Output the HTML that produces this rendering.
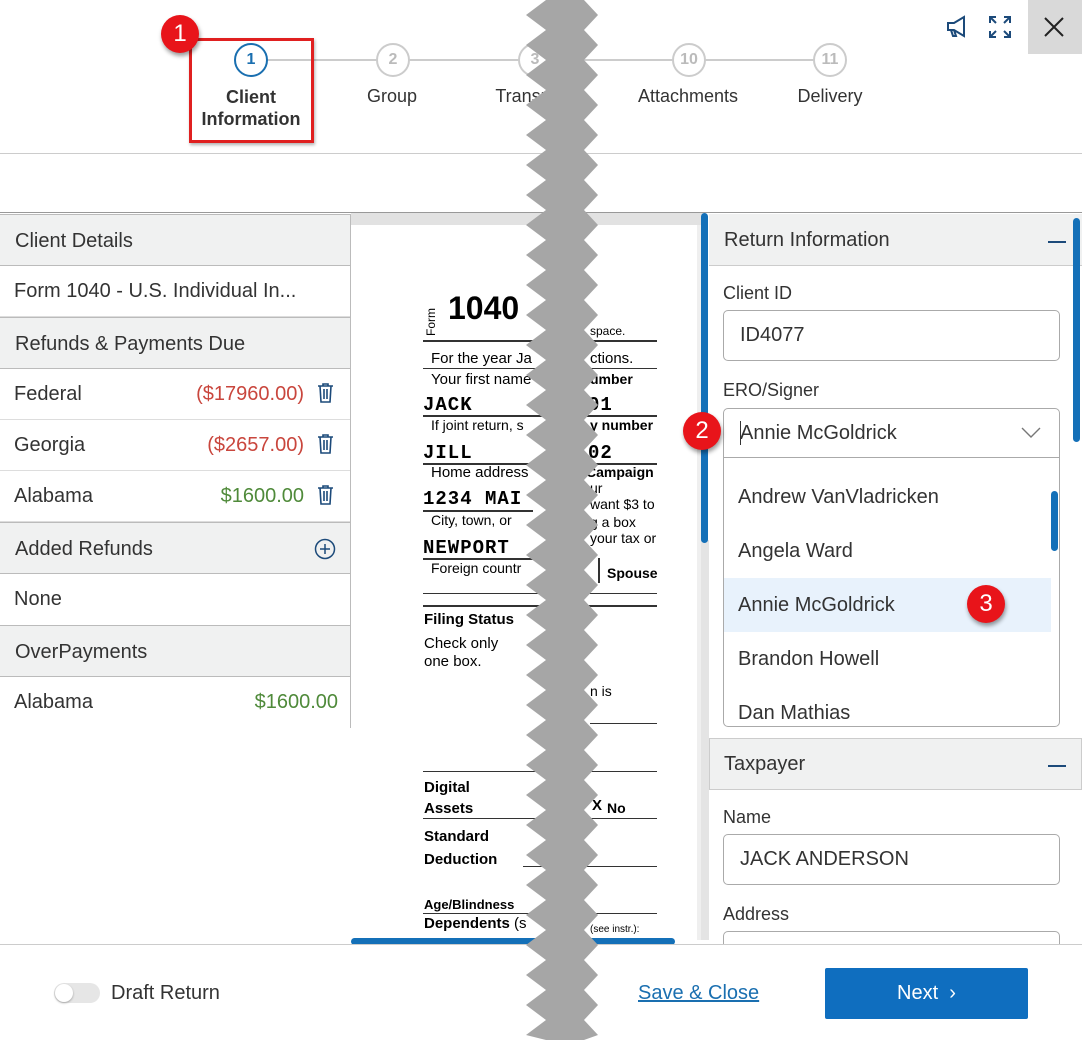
<!DOCTYPE html>
<html><head><meta charset="utf-8"><style>
*{box-sizing:border-box;margin:0;padding:0}
body{width:1082px;height:1040px;position:relative;background:#fff;font-family:"Liberation Sans",sans-serif;color:#333;overflow:hidden}
.a{position:absolute}
.step{position:absolute;width:34px;height:34px;border-radius:50%;border:2px solid #ccc;color:#bbb;font-weight:bold;font-size:16px;text-align:center;line-height:30px;background:#fff}
.lbl{position:absolute;font-size:18px;color:#333;text-align:center}
.hdr{position:absolute;left:0;width:350px;background:#f0f1f1;border-top:1px solid #bbb;border-bottom:1px solid #bbb;font-size:20px;padding-left:15px}
.row{position:absolute;left:0;width:350px;font-size:20px;padding-left:14px;border-bottom:1px solid #ddd}
.amt{position:absolute;right:46px}
.red{color:#c9463d}.grn{color:#4f8a3a}
.trash{position:absolute;right:16px;top:14px;width:17px;height:20px}
.badge{position:absolute;width:38px;height:38px;border-radius:50%;background:#e8141a;color:#fff;font-size:24px;text-align:center;line-height:38px;box-shadow:1px 3px 4px rgba(0,0,0,.4)}
.inp{position:absolute;left:723px;width:337px;height:51px;border:1px solid #aaa;border-radius:5px;font-size:20px;padding-left:16px;line-height:49px}
.flbl{position:absolute;left:723px;font-size:18px}
.opt{position:absolute;left:724px;width:327px;height:54px;font-size:20px;padding-left:14px;line-height:54px}
.doc{position:absolute;font-family:"Liberation Sans",sans-serif;color:#000;font-size:15px}
.mono{font-family:"Liberation Mono",monospace;font-weight:bold;font-size:19px;letter-spacing:1px}
.hl{position:absolute;height:2px;background:#333}
</style></head><body>
<!-- top bar -->
<div class="a" style="left:0;top:153px;width:1082px;height:1px;background:#ccc"></div>
<div class="a" style="left:252px;top:59px;width:578px;height:2px;background:#ccc"></div>
<div class="step" style="left:234px;top:43px;border-color:#1a6fb0;color:#1a6fb0">1</div>
<div class="step" style="left:376px;top:43px">2</div>
<div class="step" style="left:518px;top:43px">3</div>
<div class="step" style="left:672px;top:43px">10</div>
<div class="step" style="left:813px;top:43px">11</div>
<div class="lbl" style="left:190px;top:86px;width:122px;font-weight:bold;line-height:22px">Client<br>Information</div>
<div class="lbl" style="left:342px;top:86px;width:100px">Group</div>
<div class="lbl" style="left:480px;top:86px;width:100px">Transmit</div>
<div class="lbl" style="left:618px;top:86px;width:140px">Attachments</div>
<div class="lbl" style="left:780px;top:86px;width:100px">Delivery</div>
<div class="a" style="left:189px;top:38px;width:125px;height:105px;border:3px solid #e02020;box-shadow:1px 2px 3px rgba(0,0,0,.3)"></div>
<div class="badge" style="left:161px;top:15px">1</div>
<!-- icons -->
<svg class="a" style="left:945px;top:15px" width="26" height="24" viewBox="0 0 26 24"><path d="M3 8h6l10-6v19L9 15H3z M6 15l2 6h3l-2-6" fill="none" stroke="#1c4a7a" stroke-width="2"/></svg>
<svg class="a" style="left:988px;top:15px" width="24" height="24" viewBox="0 0 24 24" stroke="#1c4a7a" stroke-width="2" fill="none"><path d="M2 8V2h6M2 2l6 6M16 2h6v6M22 2l-6 6M2 16v6h6M2 22l6-6M22 16v6h-6M22 22l-6-6"/></svg>
<div class="a" style="left:1028px;top:0;width:54px;height:54px;background:#d9d9d9"></div>
<svg class="a" style="left:1044px;top:17px" width="20" height="20"><path d="M1 1L19 19M19 1L1 19" stroke="#222" stroke-width="2"/></svg>
<!-- content top line -->
<div class="a" style="left:0;top:212px;width:1082px;height:1px;background:#999"></div>
<!-- left panel -->
<div class="hdr" style="top:214px;height:52px;line-height:52px">Client Details</div>
<div class="row" style="top:266px;height:51px;line-height:51px">Form 1040 - U.S. Individual In...</div>
<div class="hdr" style="top:317px;height:52px;line-height:52px">Refunds &amp; Payments Due</div>
<div class="row" style="top:369px;height:51px;line-height:51px">Federal<span class="amt red">($17960.00)</span><svg class="trash" viewBox="0 0 17 20"><path d="M1 3h15M6 3V1h5v2M3 3l1 16h9l1-16M7 6v10M10 6v10" fill="none" stroke="#1c4a7a" stroke-width="1.6"/></svg></div>
<div class="row" style="top:420px;height:51px;line-height:51px">Georgia<span class="amt red">($2657.00)</span><svg class="trash" viewBox="0 0 17 20"><path d="M1 3h15M6 3V1h5v2M3 3l1 16h9l1-16M7 6v10M10 6v10" fill="none" stroke="#1c4a7a" stroke-width="1.6"/></svg></div>
<div class="row" style="top:471px;height:51px;line-height:51px">Alabama<span class="amt grn">$1600.00</span><svg class="trash" viewBox="0 0 17 20"><path d="M1 3h15M6 3V1h5v2M3 3l1 16h9l1-16M7 6v10M10 6v10" fill="none" stroke="#1c4a7a" stroke-width="1.6"/></svg></div>
<div class="hdr" style="top:522px;height:52px;line-height:52px">Added Refunds<svg class="a" style="right:14px;top:15px" width="22" height="22"><circle cx="11" cy="11" r="9.5" fill="none" stroke="#1c4a7a" stroke-width="1.5"/><path d="M11 6v10M6 11h10" stroke="#1c4a7a" stroke-width="1.5"/></svg></div>
<div class="row" style="top:574px;height:51px;line-height:51px;border:none">None</div>
<div class="hdr" style="top:625px;height:52px;line-height:52px">OverPayments</div>
<div class="row" style="top:677px;height:51px;line-height:51px;border:none">Alabama<span class="amt grn" style="right:12px">$1600.00</span></div>
<div class="a" style="left:350px;top:214px;width:1px;height:514px;background:#bbb"></div>
<!-- doc area -->
<div class="a" style="left:351px;top:213px;width:352px;height:12px;background:#e2e2e2"></div>
<div class="a" style="left:697px;top:225px;width:4px;height:715px;background:#efefef"></div>
<div class="doc" style="left:424px;font-size:12px;transform:rotate(-90deg);transform-origin:left top;top:336px">Form</div>
<div class="doc" style="left:448px;top:290px;font-size:32px;font-weight:bold">1040</div>
<div class="doc" style="left:590px;top:324px;font-size:12px">space.</div>
<div class="hl" style="left:423px;top:340px;width:234px"></div>
<div class="doc" style="left:431px;top:350px">For the year Ja</div><div class="doc" style="left:590px;top:350px">ctions.</div>
<div class="hl" style="left:423px;top:368px;width:234px;height:1px"></div>
<div class="doc" style="left:431px;top:371px">Your first name</div><div class="doc" style="left:590px;top:371px;font-weight:bold;font-size:14px">umber</div>
<div class="doc mono" style="left:423px;top:394px">JACK</div><div class="doc mono" style="left:588px;top:394px">01</div>
<div class="hl" style="left:423px;top:415px;width:234px"></div>
<div class="doc" style="left:431px;top:417px;font-size:14px">If joint return, s</div><div class="doc" style="left:590px;top:417px;font-weight:bold;font-size:14px">y number</div>
<div class="doc mono" style="left:423px;top:442px">JILL</div><div class="doc mono" style="left:588px;top:442px">02</div>
<div class="hl" style="left:423px;top:463px;width:234px"></div>
<div class="doc" style="left:431px;top:464px">Home address</div><div class="doc" style="left:586px;top:464px;font-weight:bold;font-size:14px">Campaign</div>
<div class="doc mono" style="left:423px;top:488px">1234 MAI</div><div class="doc" style="left:590px;top:480px;font-size:14px">ur<br>want $3 to</div>
<div class="hl" style="left:423px;top:510px;width:110px"></div>
<div class="doc" style="left:431px;top:512px;font-size:14px">City, town, or</div><div class="doc" style="left:590px;top:514px;font-size:14px">g a box<br>your tax or</div>
<div class="doc mono" style="left:423px;top:537px">NEWPORT</div>
<div class="hl" style="left:423px;top:558px;width:110px"></div>
<div class="doc" style="left:431px;top:560px;font-size:14px">Foreign countr</div><div class="doc" style="left:607px;top:565px;font-weight:bold;font-size:14px">Spouse</div>
<div class="a" style="left:598px;top:558px;width:2px;height:25px;background:#333"></div>
<div class="hl" style="left:423px;top:593px;width:234px;height:1px"></div>
<div class="hl" style="left:423px;top:605px;width:234px"></div>
<div class="doc" style="left:424px;top:611px;font-weight:bold">Filing Status</div>
<div class="doc" style="left:424px;top:635px;font-size:15px;line-height:18px">Check only<br>one box.</div>
<div class="doc" style="left:590px;top:683px;font-size:14px">n is</div>
<div class="hl" style="left:590px;top:723px;width:67px;height:1px"></div>
<div class="hl" style="left:423px;top:771px;width:234px;height:1px"></div>
<div class="doc" style="left:424px;top:777px;font-weight:bold;line-height:21px">Digital<br>Assets</div>
<div class="doc" style="left:592px;top:797px;font-weight:bold;font-size:15px">X</div><div class="doc" style="left:607px;top:800px;font-weight:bold;font-size:14px">No</div>
<div class="hl" style="left:423px;top:818px;width:234px;height:1px"></div>
<div class="doc" style="left:424px;top:825px;font-weight:bold;line-height:23px">Standard<br>Deduction</div>
<div class="hl" style="left:523px;top:866px;width:134px;height:1px"></div>
<div class="doc" style="left:424px;top:897px;font-weight:bold;font-size:13px">Age/Blindness</div>
<div class="hl" style="left:423px;top:913px;width:234px;height:1px"></div>
<div class="doc" style="left:424px;top:915px;font-weight:bold">Dependents <span style="font-weight:normal">(s</span></div>
<div class="doc" style="left:590px;top:924px;font-size:10px">(see instr.):</div>
<div class="a" style="left:351px;top:938px;width:324px;height:7px;border-radius:4px;background:#1470b8"></div>
<!-- vertical scroll -->
<div class="a" style="left:701px;top:540px;width:8px;height:400px;background:#e4e4e4"></div>
<div class="a" style="left:701px;top:213px;width:7px;height:330px;border-radius:4px;background:#1470b8"></div>
<!-- right panel -->
<div class="a" style="left:709px;top:214px;width:373px;height:52px;background:#f0f1f1;border-bottom:1px solid #ccc;font-size:20px;padding-left:15px;line-height:52px">Return Information</div>
<div class="a" style="left:1048px;top:241px;width:18px;height:2px;background:#1c4a7a"></div>
<div class="a" style="left:1073px;top:218px;width:7px;height:224px;border-radius:4px;background:#1470b8"></div>
<div class="flbl" style="top:283px">Client ID</div>
<div class="inp" style="top:310px">ID4077</div>
<div class="flbl" style="top:380px">ERO/Signer</div>
<div class="inp" style="top:408px;height:50px;border-radius:5px 5px 0 0">Annie McGoldrick</div>
<div class="a" style="left:740px;top:421px;width:1px;height:24px;background:#333"></div>
<svg class="a" style="left:1021px;top:427px" width="20" height="12"><path d="M1 1l9 9 9-9" fill="none" stroke="#777" stroke-width="1.4"/></svg>
<div class="a" style="left:723px;top:457px;width:337px;height:270px;border:1px solid #aaa;border-top:none;border-radius:0 0 5px 5px;overflow:hidden">
</div>
<div class="opt" style="top:470px">Andrew VanVladricken</div>
<div class="opt" style="top:524px">Angela Ward</div>
<div class="opt" style="top:578px;background:#e8f2fc">Annie McGoldrick</div>
<div class="opt" style="top:632px">Brandon Howell</div>
<div class="opt" style="top:686px;height:38px;overflow:hidden">Dan Mathias</div>
<div class="a" style="left:1051px;top:491px;width:7px;height:60px;border-radius:4px;background:#1470b8"></div>
<div class="badge" style="left:967px;top:585px">3</div>
<div class="badge" style="left:683px;top:412px">2</div>
<div class="a" style="left:709px;top:738px;width:373px;height:52px;background:#f0f1f1;border:1px solid #ccc;font-size:20px;padding-left:14px;line-height:50px">Taxpayer</div>
<div class="a" style="left:1048px;top:765px;width:18px;height:2px;background:#1c4a7a"></div>
<div class="flbl" style="top:807px">Name</div>
<div class="inp" style="top:834px">JACK ANDERSON</div>
<div class="flbl" style="top:904px">Address</div>
<div class="inp" style="top:931px;height:40px"></div>
<!-- footer -->
<div class="a" style="left:0;top:944px;width:1082px;height:96px;background:#fff;border-top:1px solid #ccc"></div>
<div class="a" style="left:54px;top:983px;width:46px;height:20px;border-radius:10px;background:#e6e6e6"></div>
<div class="a" style="left:55px;top:984px;width:18px;height:18px;border-radius:50%;background:#fff;box-shadow:0 1px 2px rgba(0,0,0,.3)"></div>
<div class="a" style="left:111px;top:982px;font-size:20px">Draft Return</div>
<div class="a" style="left:638px;top:982px;font-size:20px;color:#1a6fb0;text-decoration:underline">Save &amp; Close</div>
<div class="a" style="left:825px;top:968px;width:203px;height:51px;background:#0f6ebf;border-radius:2px;color:#fff;font-size:20px;line-height:51px;text-align:center">Next &nbsp;›</div>
<!-- zigzag -->
<svg class="a" style="left:0;top:0" width="1082" height="1040">
<polygon fill="#a6a6a6" points="
546,0 526,15 546,30 526,45 546,60 526,75 546,90 526,105 546,120 526,135 546,150 526,165 546,180 526,195 546,210 526,225 546,240 526,255 546,270 526,285 546,300 526,315 546,330 526,345 546,360 526,375 546,390 526,405 546,420 526,435 546,450 526,465 546,480 526,495 546,510 526,525 546,540 526,555 546,570 526,585 546,600 526,615 546,630 526,645 546,660 526,675 546,690 526,705 546,720 526,735 546,750 526,765 546,780 526,795 546,810 526,825 546,840 526,855 546,870 526,885 546,900 526,915 546,930 526,945 546,960 526,975 546,990 526,1005 546,1020 526,1035 546,1040
584,1040 598,1035 584,1020 598,1005 584,990 598,975 584,960 598,945 584,930 598,915 584,900 598,885 584,870 598,855 584,840 598,825 584,810 598,795 584,780 598,765 584,750 598,735 584,720 598,705 584,690 598,675 584,660 598,645 584,630 598,615 584,600 598,585 584,570 598,555 584,540 598,525 584,510 598,495 584,480 598,465 584,450 598,435 584,420 598,405 584,390 598,375 584,360 598,345 584,330 598,315 584,300 598,285 584,270 598,255 584,240 598,225 584,210 598,195 584,180 598,165 584,150 598,135 584,120 598,105 584,90 598,75 584,60 598,45 584,30 598,15 584,0"/>
</svg>
</body></html>
